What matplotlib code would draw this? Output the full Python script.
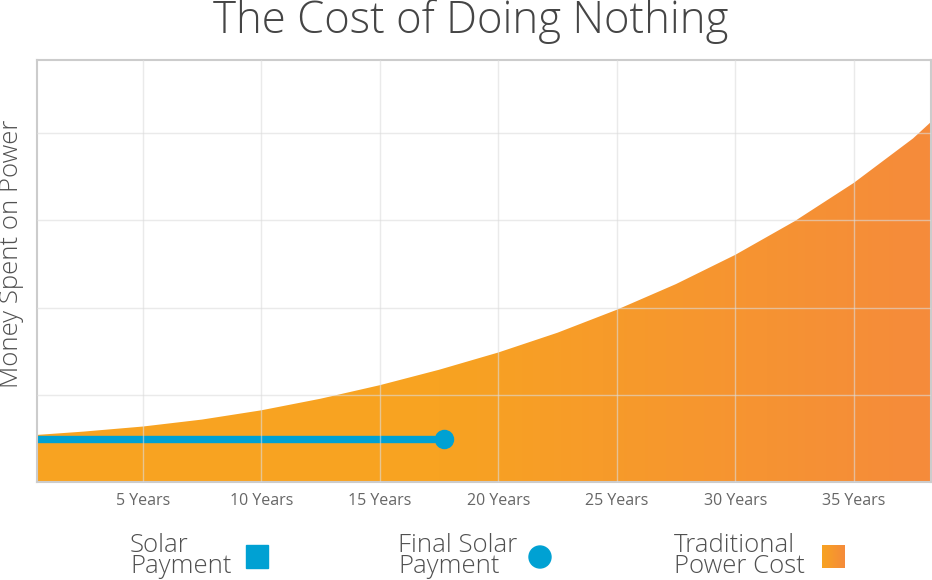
import numpy as np
import matplotlib
matplotlib.use("Agg")
import matplotlib.pyplot as plt
from matplotlib.colors import LinearSegmentedColormap
from matplotlib.patches import Rectangle, Circle

# valores (unidades arbitrarias, rejilla = 1)
years = [0.54, 2.5, 5, 7.5, 10, 12.5, 15, 17.5, 20, 22.5, 25, 27.5, 30, 32.5, 35, 37.5, 38.26]
traditional_cost = [0.54, 0.578, 0.636, 0.716, 0.822, 0.955, 1.110, 1.287, 1.485, 1.712, 1.975,
                    2.270, 2.605, 2.99, 3.43, 3.94, 4.13]
solar_years = [0.54, 17.7]
solar_payment = [0.497, 0.497]

xticks = [5, 10, 15, 20, 25, 30, 35]
xtick_labels = ["5 Years", "10 Years", "15 Years", "20 Years", "25 Years", "30 Years", "35 Years"]
ygrid = [1, 2, 3, 4]
ytop = 4.84

BLUE = "#00A1D3"
ORANGE_L = "#F8A321"
ORANGE_R = "#F58B3B"
TEXT = "#505050"

plt.rcParams["font.family"] = ["Open Sans", "Lato", "DejaVu Sans"]

fig = plt.figure(figsize=(9.32, 5.8), dpi=100)
ax = fig.add_axes([37 / 932, 98 / 580, 894 / 932, 422 / 580])

cmap = LinearSegmentedColormap.from_list(
    "trad", [(0, ORANGE_L), (0.45, ORANGE_L), (1, ORANGE_R)])

# area con degradado horizontal
poly = ax.fill_between(years, 0, traditional_cost, color="none", lw=0)
grad = np.linspace(0, 1, 256).reshape(1, -1)
img = ax.imshow(grad, cmap=cmap, aspect="auto", extent=[years[0], years[-1], 0, ytop],
                origin="lower", zorder=1)
img.set_clip_path(poly.get_paths()[0], transform=ax.transData)

# linea del pago solar y punto final
ax.plot(solar_years, solar_payment, color=BLUE, lw=5.3, solid_capstyle="butt", zorder=2)
ax.plot(solar_years[-1:], solar_payment[-1:], "o", color=BLUE, ms=13, zorder=2)

# rejilla por encima
for x in xticks:
    ax.axvline(x, color="#dcdcdc", lw=1, alpha=0.6, zorder=3)
for y in ygrid:
    ax.axhline(y, color="#dcdcdc", lw=1, alpha=0.6, zorder=3)

ax.set_xlim(years[0], years[-1])
ax.set_ylim(0, ytop)
ax.set_xticks(xticks)
ax.set_xticklabels(xtick_labels, color="#666666", fontsize=11.5)
ax.set_yticks([])
ax.tick_params(axis="x", length=0, pad=8)
for s in ax.spines.values():
    s.set_color("#cccccc")
    s.set_linewidth(1.5)

fig.text(12 / 932, 1 - 254 / 580, "Money Spent on Power", rotation=90, ha="center",
         va="center", fontsize=18.5, color=TEXT, fontweight="light")
fig.text(0.505, 1 - 22 / 580, "The Cost of Doing Nothing", ha="center", va="center",
         fontsize=31.5, color="#454545", fontweight="light")

# leyenda manual
def fx(px):
    return px / 932

def fy(py):
    return 1 - py / 580

legend_items = [("Solar\nPayment", 130), ("Final Solar\nPayment", 398),
                ("Traditional\nPower Cost", 674)]
for label, x0 in legend_items:
    fig.text(fx(x0), fy(556), label, ha="left", va="center", fontsize=18.5,
             color=TEXT, linespacing=0.8, fontweight="light")

fig.add_artist(Rectangle((fx(246), fy(568)), fx(22), 23 / 580, color=BLUE,
                         transform=fig.transFigure))
fig.add_artist(Circle((540, 580 - 557), 11, color=BLUE, transform=None))
lax = fig.add_axes([822 / 932, fy(568), 23 / 932, 23 / 580])
lax.imshow(grad, cmap=LinearSegmentedColormap.from_list("lg", [ORANGE_L, ORANGE_R]),
           aspect="auto")
lax.axis("off")

fig.savefig("out.png", dpi=100)
